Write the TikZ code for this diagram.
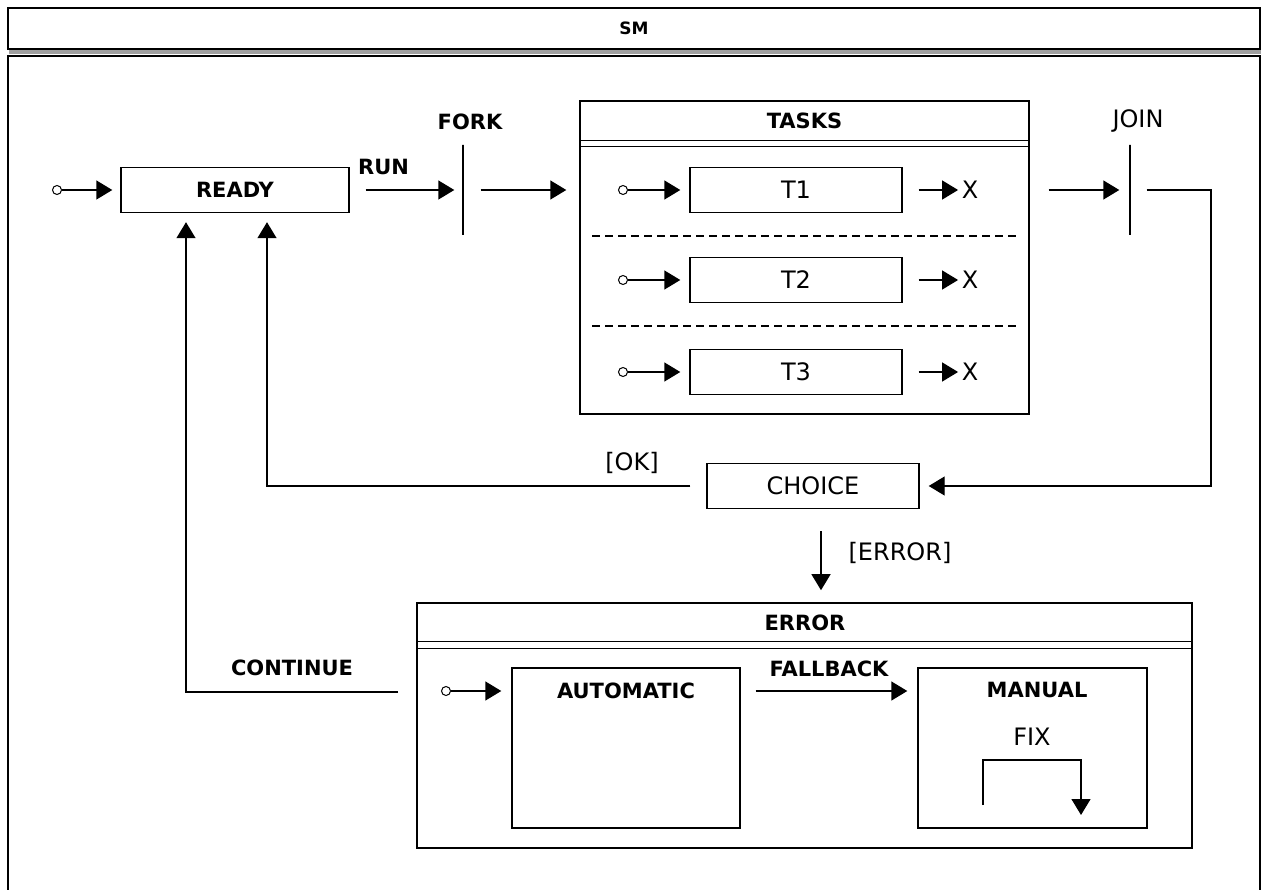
\documentclass[tikz,border=0pt]{standalone}
\usepackage{fontspec}
\setmainfont{DejaVu Sans}
\usetikzlibrary{arrows.meta, positioning, shadows}

\tikzset{
  statebox/.style={draw, rectangle, inner sep=0pt, minimum width=228pt, minimum height=45pt},
  initdot/.style={draw, circle, fill=white, line width=1pt, inner sep=0pt, minimum size=9pt},
  forkbar/.style={draw, rectangle, inner sep=0pt, minimum width=0pt, minimum height=90pt},
  lbl/.style={font=\fontsize{21}{25}\selectfont\bfseries},
  txt/.style={font=\fontsize{24}{28}\selectfont},
}

\begin{document}
\begin{tikzpicture}[x=1pt, y=-1pt, line width=1.4pt, node distance=90pt, on grid,
    >={Triangle[length=16pt, width=19pt]}, txt]
    \useasboundingbox (0,0) rectangle (1264,890);

    % machine frame
    \node[draw, line width=1.8pt, fill=white, minimum width=1252pt, minimum height=41pt,
      drop shadow={shadow xshift=1pt, shadow yshift=-5pt, opacity=0.75, fill=gray},
      font=\fontsize{17}{19}\selectfont\bfseries] (sm) at (634,28.5) {SM};
    \draw[line width=1.8pt] (8,56) rectangle (1260,900);

    % top level
    \node[initdot] (i0) at (57,190) {};
    \node[statebox, lbl] (ready) at (235,190) {READY};
    \node[forkbar] (fork) at (463,190) {};
    \node[lbl] (forklbl) at (470,122) {FORK};

    \draw[->, shorten >=8pt] (i0) -- (ready);
    \draw[->, shorten <=16pt, shorten >=8pt] (ready) -- (fork)
      node[lbl, pos=0.3, above=11pt] {RUN};

    % tasks region
    \node[draw, minimum width=449pt, minimum height=313pt, inner sep=0pt] (tasks) at (804.5,257.5) {};
    \node[lbl] (taskslbl) at (804.5,121) {TASKS};
    \draw ([yshift=-40pt]tasks.north west) -- ([yshift=-40pt]tasks.north east);
    \draw ([yshift=-46pt]tasks.north west) -- ([yshift=-46pt]tasks.north east);
    \draw[dash pattern=on 8pt off 5pt] (592,236) -- (1017,236);
    \draw[dash pattern=on 8pt off 5pt] (592,326) -- (1017,326);

    \foreach \t/\y in {1/190, 2/280, 3/372} {
      \node[initdot] (ti\t) at (623,\y) {};
      \node[statebox, minimum width=212pt] (t\t) at (796,\y) {T\t};
      \node[inner sep=0pt] (x\t) at (970,\y) {X};
      \draw[->, shorten >=9pt] (ti\t) -- (t\t);
      \draw[->, shorten <=16pt, shorten >=3pt] (t\t) -- (x\t);
    }

    \draw[->, shorten <=17pt, shorten >=13pt] (fork) -- (tasks.west |- fork);

    % join and choice
    \node[forkbar] (join) at (1130,190) {};
    \node (joinlbl) at (1138,121) {JOIN};
    \draw[->, shorten <=19pt, shorten >=10pt] (tasks.east |- join) -- (join);

    \node[statebox, minimum width=212pt, font=\fontsize{24}{28}\selectfont] (choice) at (813,486) {CHOICE};
    \coordinate (jc) at (1211,190);
    \draw[->, shorten <=16pt, shorten >=9pt] (join) -- (jc) |- (choice);

    \draw[->, shorten <=16pt, shorten >=9pt] (choice.west) -| ([xshift=32pt]ready.south);
    \node (oklbl) at (632,463) {[OK]};

    % error region
    \node[draw, minimum width=775pt, minimum height=245pt, inner sep=0pt] (error) at (804.5,725.5) {};
    \node[lbl] (errorlbl) at (805,623) {ERROR};
    \draw ([yshift=-39pt]error.north west) -- ([yshift=-39pt]error.north east);
    \draw ([yshift=-46pt]error.north west) -- ([yshift=-46pt]error.north east);

    \draw[->, shorten <=22pt] ([xshift=8pt]choice.south) -- ++(0,81);
    \node (errlbl) at (900,553) {[ERROR]};

    \coordinate (contfrom) at (398,692);
    \draw[->, shorten >=9pt] (contfrom) -| ([xshift=-49pt]ready.south);
    \node[lbl] (contlbl) at (292,668) {CONTINUE};

    \node[initdot] (ei) at (446,691) {};
    \node[statebox, minimum height=160pt] (automatic) at (626,748) {};
    \node[lbl] (autolbl) at (626,691) {AUTOMATIC};
    \node[statebox, minimum width=229pt, minimum height=160pt] (manual) at (1032.5,748) {};
    \node[lbl] (manlbl) at (1037,690) {MANUAL};

    \draw[->, shorten >=10pt] (ei) -- (ei -| automatic.west);
    \draw[->, shorten <=15pt, shorten >=10pt] (automatic.east |- ei) -- (manual.west |- ei)
      node[lbl, midway, above=10pt] {FALLBACK};

    % manual fix loop
    \node (fixlbl) at (1032,737) {FIX};
    \coordinate (fixa) at (983,805);
    \coordinate (fixb) at (1081,815);
    \draw[->] (fixa) -- ++(0,-45) -| (fixb);

\end{tikzpicture}
\end{document}
